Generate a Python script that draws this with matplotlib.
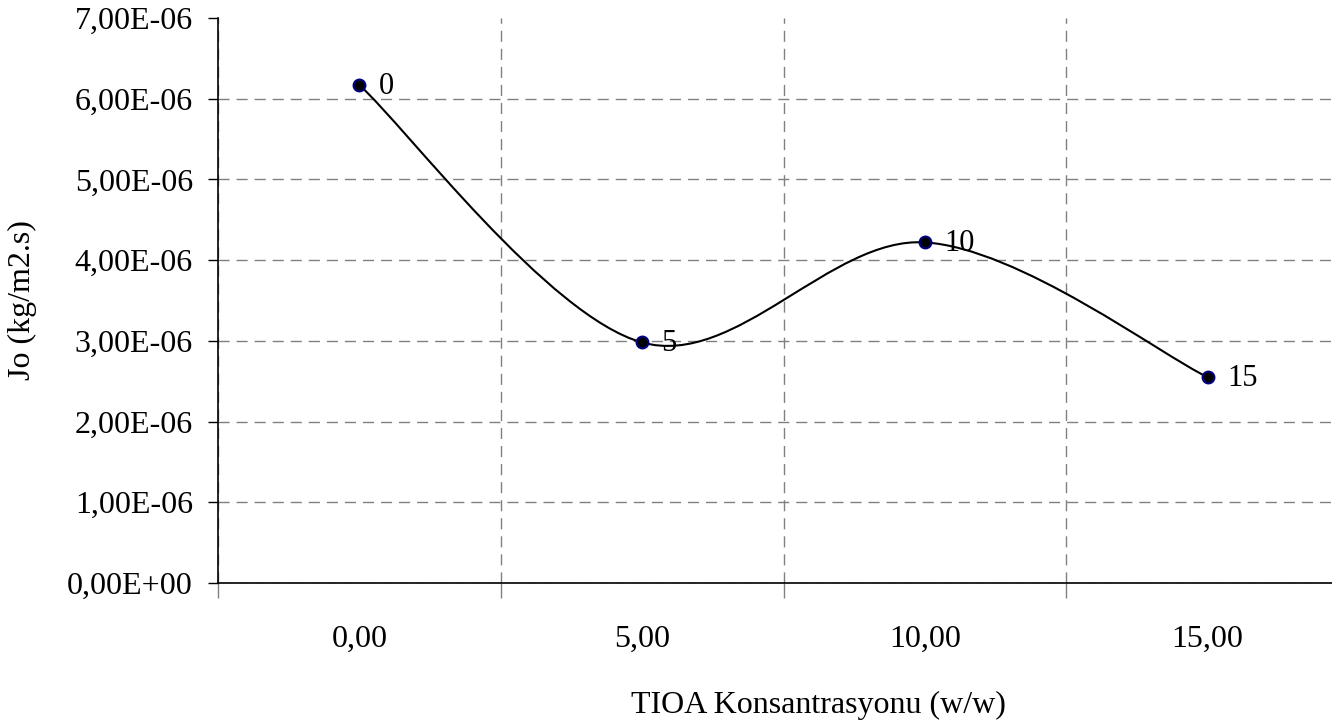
import numpy as np
import matplotlib.pyplot as plt
from matplotlib.path import Path
from matplotlib.patches import PathPatch

plt.rcParams['font.family'] = ['Liberation Serif', 'DejaVu Serif']

# data
tioa = [0, 5, 10, 15]
jo = [6.17e-06, 2.98e-06, 4.22e-06, 2.55e-06]
point_labels = ['0', '5', '10', '15']
x_ticks = [0, 5, 10, 15]
x_tick_labels = ['0,00', '5,00', '10,00', '15,00']
y_ticks = [0, 1e-06, 2e-06, 3e-06, 4e-06, 5e-06, 6e-06, 7e-06]

W, H = 1332, 725
fig = plt.figure(figsize=(W / 100, H / 100), dpi=100)
# plot area runs past the right edge like in the original
ax = fig.add_axes([218 / W, (H - 583) / H, (1349 - 218) / W, (583 - 18) / H])

ax.set_xlim(-2.5, 17.5)
ax.set_ylim(0, 7e-06)

# smoothed line (excel-like bezier through the points)
pts = np.column_stack([tioa, jo])
verts = [tuple(pts[0])]
codes = [Path.MOVETO]
n = len(pts)
for i in range(n - 1):
    p0 = pts[max(i - 1, 0)]
    p1 = pts[i]
    p2 = pts[i + 1]
    p3 = pts[min(i + 2, n - 1)]
    c1 = p1 + (p2 - p0) / 6
    c2 = p2 - (p3 - p1) / 6
    verts += [tuple(c1), tuple(c2), tuple(p2)]
    codes += [Path.CURVE4] * 3
ax.add_patch(PathPatch(Path(verts, codes), facecolor='none', edgecolor='black', lw=1.5, zorder=3))

ax.plot(tioa, jo, linestyle='none', marker='o', ms=8.5, mfc='black', mec='#000080', mew=1.5, zorder=4)

for x, y, lab in zip(tioa, jo, point_labels):
    ax.annotate(lab, (x, y), xytext=(14, -1), textcoords='offset points',
                ha='left', va='center', fontsize=22)

# axes / grid
for s in ['top', 'right']:
    ax.spines[s].set_visible(False)
ax.spines['left'].set_linewidth(1.2)
ax.spines['bottom'].set_linewidth(1.2)

ax.set_xticks([-2.5, 2.5, 7.5, 12.5])
ax.set_xticklabels([])
ax.set_xticks(x_ticks, minor=True)
ax.set_xticklabels(x_tick_labels, minor=True, fontsize=23)
ax.tick_params(axis='x', which='minor', length=0, pad=30)
ax.tick_params(axis='x', which='major', length=11, width=1, color='#808080', direction='out')
ax.xaxis.get_major_ticks()[0].tick1line.set_color('black')

ax.set_yticks(y_ticks)
ax.set_yticklabels([f"{v:.2E}".replace('.', ',') for v in y_ticks], fontsize=23)
ax.tick_params(axis='y', length=7, width=1, direction='out', pad=11)

ax.grid(True, which='major', color='#808080', linestyle=(0, (8, 5)), linewidth=1.0)
ax.yaxis.get_major_ticks()[-1].gridline.set_visible(False)
ax.set_axisbelow(True)

fig.text(818 / W, 1 - 705 / H, 'TIOA Konsantrasyonu (w/w)', ha='center', va='center', fontsize=23)
fig.text(22 / W, 1 - 300 / H, 'Jo (kg/m2.s)', ha='center', va='center', rotation=90, fontsize=23)

fig.savefig('out.png', dpi=100)
